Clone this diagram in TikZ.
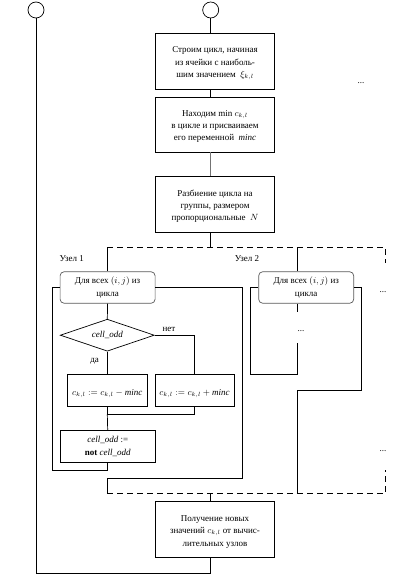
\documentclass[tikz,border=0pt]{standalone}
\usepackage{fontspec}
\setmainfont{Liberation Serif}
\usetikzlibrary{positioning,shapes.geometric}

\begin{document}
\begin{tikzpicture}[x=1pt, y=-1pt, line width=0.7pt,
        font=\fontsize{9}{12.3}\selectfont,
        block/.style={draw, rectangle, minimum width=118.6, minimum height=56, align=center},
        rblock/.style={draw=black!65, rectangle, rounded corners=4pt, minimum width=95, minimum height=31.5, align=center},
        sblock/.style={draw, rectangle, minimum height=32.5, align=center},
        bus/.style={dash pattern=on 6pt off 4pt}]
        \useasboundingbox (0,0) rectangle (406,575);

        % terminals and main column
        \node[draw, circle, minimum size=16, inner sep=0] (start1) at (36,10) {};
        \node[draw, circle, minimum size=16, inner sep=0] (start2) at (210.7,10) {};
        \node[block] (build) at (215,61) {\mbox{}\\[-2pt]Строим цикл, начиная\\из ячейки с наиболь-\\шим значением ~$\xi_{k,l}$};
        \node[block, minimum height=55] (findmin) at (215,124.5) {\mbox{}\\[-2pt]Находим min $c_{k,l}$\\в цикле и присваиваем\\его переменной ~\textit{minc}};
        \node[block] (split) at (215,204.2) {\mbox{}\\[-2pt]Разбиение цикла на\\группы, размером\\пропорциональные ~$N$};
        \node[block] (collect) at (215,529.7) {\mbox{}\\[-2pt]Получение новых\\значений $c_{k,l}$ от вычис-\\лительных узлов};

        \coordinate (splitL) at (107.3,247.7);
        \coordinate (splitM) at (297.7,247.7);
        \coordinate (splitR) at (385.7,247.7);
        \coordinate (joinL) at (107.3,493.3);
        \coordinate (joinM) at (297.7,493.3);
        \coordinate (joinR) at (385.7,493.3);

        % node 1
        \node (node1) at (71.7,258.3) {Узел 1};
        \node[rblock] (forall1) at (107.6,287.5) {Для всех $(i,j)$ из\\цикла};
        \node[draw, diamond, aspect=3, minimum width=94, minimum height=32, inner sep=0] (odd) at (107.3,335.2) {\textit{cell\_odd}};
        \node (no) at (169,329) {нет};
        \node (yes) at (94.7,361) {да};
        \node[sblock, minimum width=80] (minus) at (107.3,390.3) {\mbox{}\\$c_{k,l} := c_{k,l} - \mathit{minc}$};
        \node[sblock, minimum width=78.7] (plus) at (194.6,390.3) {\mbox{}\\$c_{k,l} := c_{k,l} + \mathit{minc}$};
        \coordinate (merge) at (107.3,414.3);
        \node[sblock, minimum width=95.3, minimum height=31.7] (flip) at (107.7,446.5) {\textit{cell\_odd} :=\\\textbf{not} \textit{cell\_odd}};

        % node 2
        \node (node2) at (247,258.3) {Узел 2};
        \node[rblock] (forall2) at (306.2,287.5) {Для всех $(i,j)$ из\\цикла};
        \node (dots2) at (301,330.7) {...};

        % other nodes
        \node (dotsA) at (361,83) {...};
        \node (dotsB) at (383,291.7) {...};
        \node (dotsC) at (383,450.7) {...};

        % main flow
        \draw (start2.south) -- (start2 |- build.north);
        \draw (start2 |- build.south) -- (start2 |- findmin.north);
        \draw[line width=1.3pt, black!55] (start2 |- findmin.south) -- (start2 |- split.north);
        \draw (start2 |- split.south) -- (start2 |- splitL);
        \draw[bus] (splitL) -- (splitR) -- ++(0,15.3);
        \draw (splitL) -- (splitL |- forall1.north);
        \draw (splitM) -- (splitM |- forall2.north);

        % node 1 loop
        \draw (forall1.south) -- (odd.north);
        \draw (odd.south) -- (minus.north);
        \draw (odd.east) -| (plus.north);
        \draw (plus.south) |- (merge) -- (minus.south);
        \draw (merge) -- (flip.north);
        \draw (forall1.west) -- ++(-7.7,0) -- ++(0,182.5) -| (flip.south);
        \draw (forall1.east) -| (242.3,478.3) -| (joinL);

        % node 2 loop
        \draw (splitM |- forall2.south) -- ++(0,8.5);
        \draw (297.7,343) -- (297.7,374) -| (250.7,287.5) -- (forall2.west);
        \draw (forall2.east) -| (361.7,390) -| (joinM);

        % join
        \draw[bus] (joinL) -- (joinR) -- ++(0,-23.3);
        \draw (start2 |- joinL) -- (start2 |- collect.north);
        \draw (start2 |- collect.south) -- ++(0,15.6) -| (start1.south);
    \end{tikzpicture}
\end{document}
